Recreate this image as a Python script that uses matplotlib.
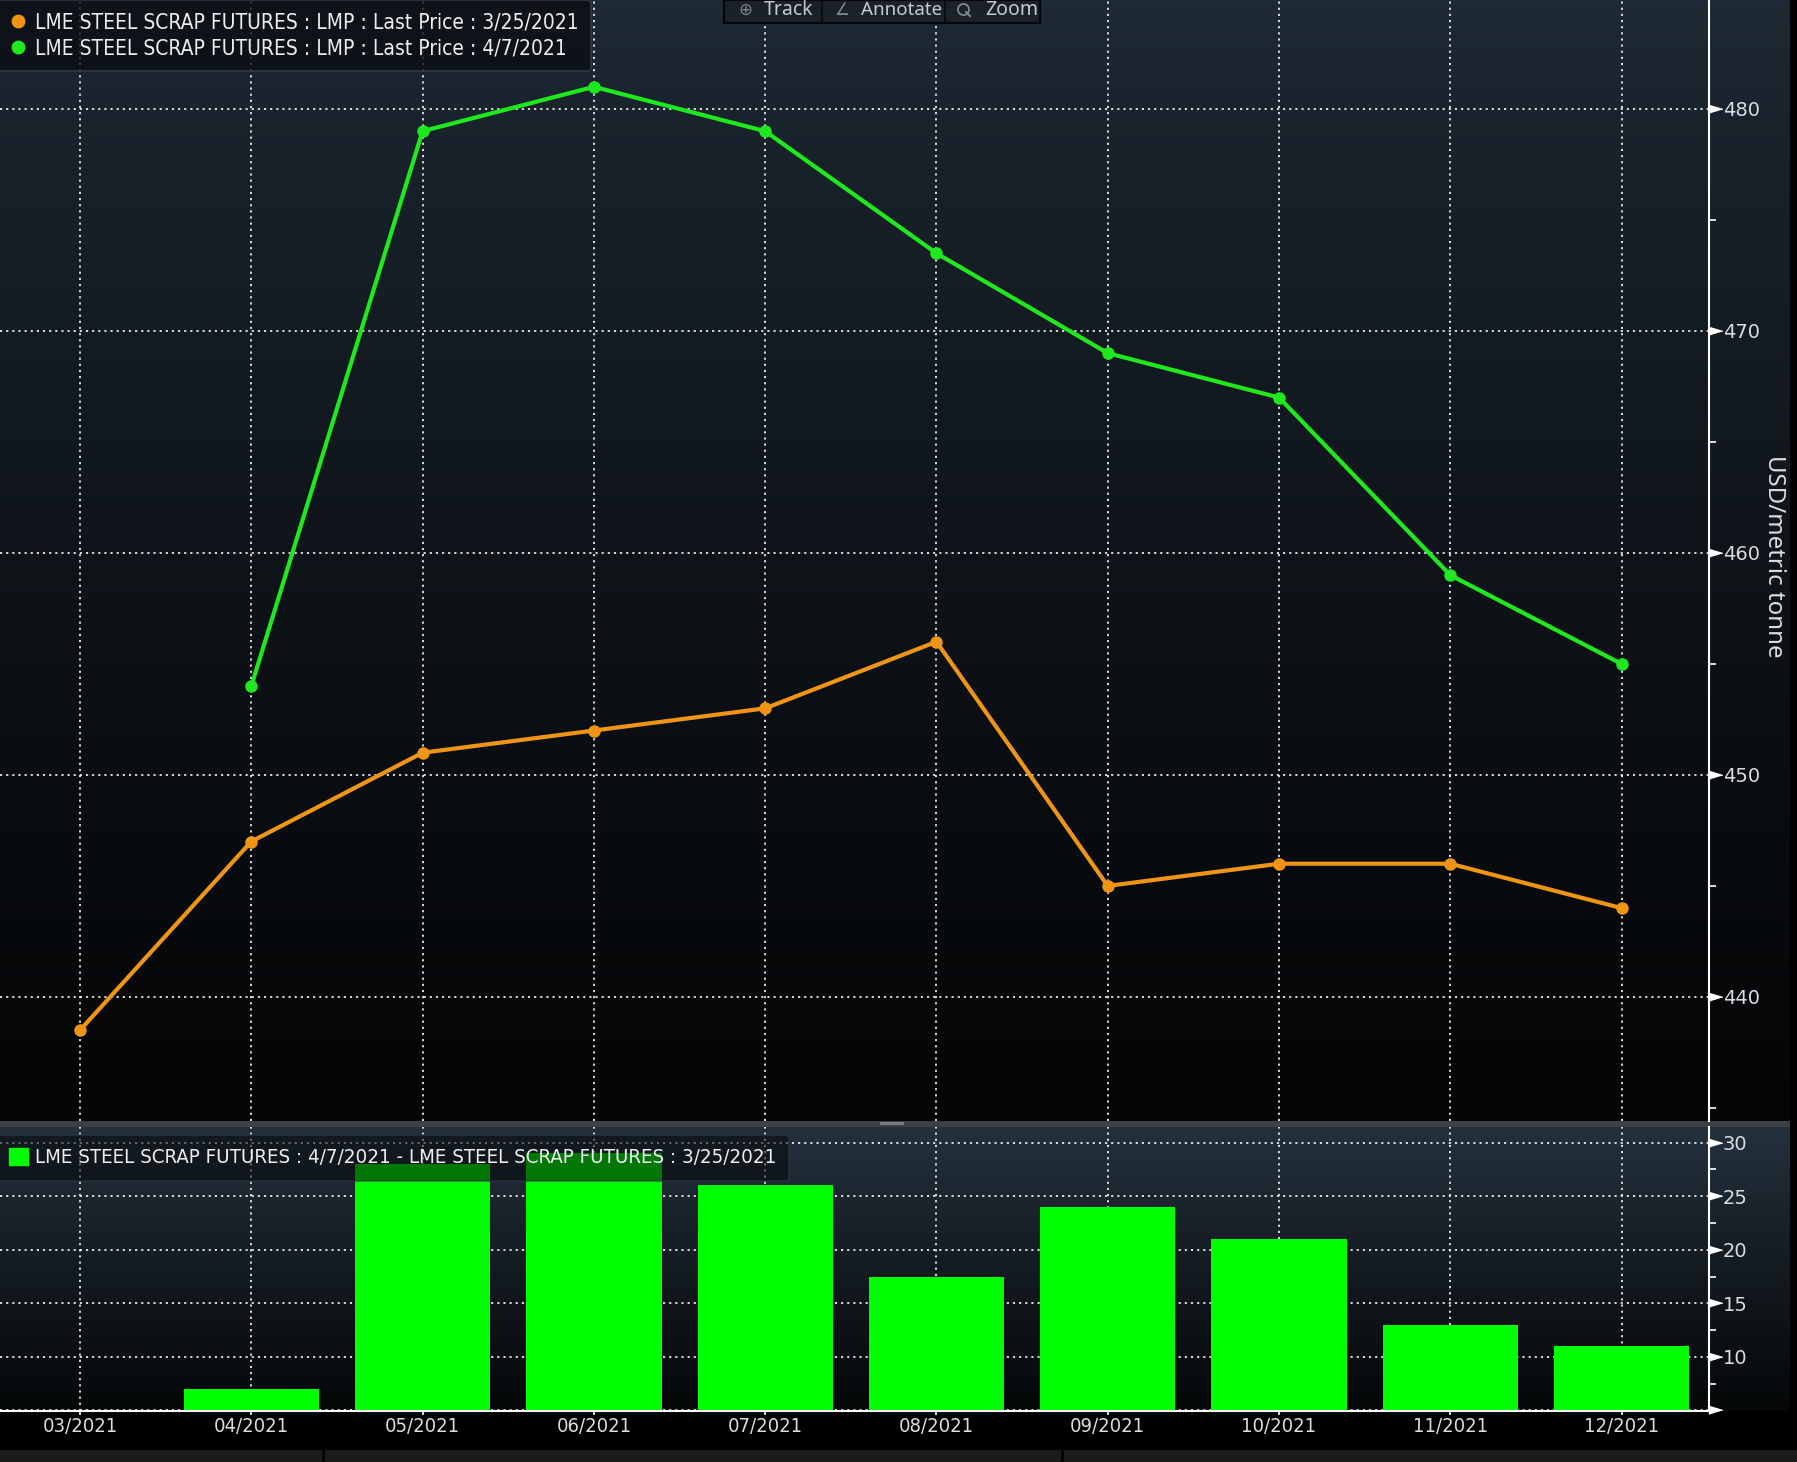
import numpy as np
import matplotlib.pyplot as plt
from matplotlib.lines import Line2D
from matplotlib.patches import Rectangle

months = ['03/2021', '04/2021', '05/2021', '06/2021', '07/2021',
          '08/2021', '09/2021', '10/2021', '11/2021', '12/2021']
price_0325 = [438.5, 447, 451, 452, 453, 456, 445, 446, 446, 444]
price_0407 = [np.nan, 454, 479, 481, 479, 473.5, 469, 467, 459, 455]
spread = [np.nan, 7, 28, 29, 26, 17.5, 24, 21, 13, 11]

top_ticks = [440, 450, 460, 470, 480]
bot_ticks = [5, 10, 15, 20, 25, 30]

ORANGE = '#ef9414'
GREEN = '#1fe81f'
BAR = '#00ff00'
TXT = '#d9dde2'
NARROW = {'family': ['DejaVu Sans'], 'stretch': 'condensed'}

W, H = 1797, 1462
fig = plt.figure(figsize=(W / 100, H / 100), dpi=100)
fig.patch.set_facecolor('black')

# background gradients (upper pane, separator, lower pane, bottom strip)
def grad(c0, c1, n, power=1.0):
    t = np.linspace(0, 1, n) ** power
    c0, c1 = np.array(c0) / 255, np.array(c1) / 255
    return c0[None, :] * (1 - t[:, None]) + c1[None, :] * t[:, None]

img = np.zeros((H, W, 3))
img[0:1121] = grad((30, 42, 53), (3, 4, 5), 1121, 0.8)[:, None, :]
img[1121:1127] = np.array([60, 64, 68]) / 255
img[1127:1411] = grad((36, 50, 62), (5, 7, 8), 284, 0.9)[:, None, :]
img[1411:1450] = 0.0
img[1450:] = np.array([27, 27, 27]) / 255
img[1450:, 322:325] = 0.02
img[1450:, 1061:1064] = 0.02
img[:1450, 1790:] = 0.0
img[1122:1125, 880:904] = np.array([120, 124, 128]) / 255
bg = fig.add_axes([0, 0, 1, 1], zorder=-10)
bg.imshow(img, aspect='auto', interpolation='nearest')
bg.axis('off')

x = np.arange(len(months))
xlim = (-0.467, 9.51)
ax_w = 1709 / W
ax1 = fig.add_axes([0, 1 - 1121 / H, ax_w, 1121 / H])
ax2 = fig.add_axes([0, 1 - 1411 / H, ax_w, (1411 - 1127) / H])

grid_kw = dict(color='white', linestyle=(0, (1.2, 2.2)), linewidth=1.3, alpha=0.9)

for ax in (ax1, ax2):
    ax.set_facecolor('none')
    ax.set_xlim(*xlim)
    ax.set_xticks(x)
    for s in ('left', 'top', 'bottom'):
        ax.spines[s].set_visible(False)
    ax.spines['right'].set_color('white')
    ax.spines['right'].set_linewidth(1.5)
    ax.yaxis.tick_right()
    ax.tick_params(axis='y', which='major', length=0, pad=10, labelcolor=TXT,
                   labelsize=14)
    ax.tick_params(axis='y', which='minor', length=5, width=1.2, color='white',
                   direction='out')
    ax.grid(True, **grid_kw)
    ax.set_axisbelow(True)

# upper pane: prices
ax1.set_ylim(434.41, 484.91)
ax1.set_yticks(top_ticks)
ax1.set_yticks(np.arange(435, 485, 10), minor=True)
ax1.tick_params(axis='x', length=0, labelbottom=False)
ax1.plot(x, price_0325, color=ORANGE, lw=3, marker='o', ms=8, zorder=3)
ax1.plot(x, price_0407, color=GREEN, lw=3, marker='o', ms=8, zorder=3)

# lower pane: spread bars
ax2.set_ylim(4.95, 31.45)
ax2.set_yticks(bot_ticks)
ax2.set_yticklabels(['', '10', '15', '20', '25', '30'])
ax2.set_yticks(np.arange(7.5, 31, 5), minor=True)
ax2.bar(x, spread, width=0.79, color=BAR, zorder=2)
ax2.spines['bottom'].set_visible(True)
ax2.spines['bottom'].set_color('white')
ax2.spines['bottom'].set_linewidth(1.5)
ax2.set_xticklabels(months, fontsize=14.5, color=TXT, **NARROW)
ax2.tick_params(axis='x', length=3, width=1.2, color='white', pad=1)

# triangular major tick markers on the right spine
tri = [(0, -3), (0, 3), (10, 0)]
for ax, ticks in ((ax1, top_ticks), (ax2, bot_ticks)):
    ax.plot([1] * len(ticks), ticks, linestyle='none', marker=tri, ms=19,
            color='white', transform=ax.get_yaxis_transform(), clip_on=False,
            zorder=5)

fig.text(1774 / W, 1 - 556 / H, 'USD/metric tonne', rotation=270, ha='center',
         va='center', color=TXT, fontsize=17.3, family='Noto Sans')

# legends
h1 = [Line2D([], [], ls='none', marker='o', ms=9, color=ORANGE),
      Line2D([], [], ls='none', marker='o', ms=9, color=GREEN)]
leg1 = ax1.legend(h1, ['LME STEEL SCRAP FUTURES : LMP : Last Price : 3/25/2021',
                       'LME STEEL SCRAP FUTURES : LMP : Last Price : 4/7/2021'],
                  loc='upper left', bbox_to_anchor=(-0.001, 1.0), borderaxespad=0,
                  prop=dict(size=15, **NARROW), labelcolor='#eceff2',
                  facecolor='#0a0e12', edgecolor='#2e3944', framealpha=0.8,
                  handlelength=0.65, handletextpad=0.5, labelspacing=0.3,
                  borderpad=0.6, fancybox=True)
leg1.get_frame().set_linewidth(1.5)

h2 = [Rectangle((0, 0), 1, 1, color=BAR)]
leg2 = ax2.legend(h2, ['LME STEEL SCRAP FUTURES : 4/7/2021 - LME STEEL SCRAP FUTURES : 3/25/2021'],
                  loc='upper left', bbox_to_anchor=(-0.0023, 0.973), borderaxespad=0,
                  prop=dict(size=14.7, **NARROW), labelcolor='#eceff2',
                  facecolor='#05080a', edgecolor='#2e3944', framealpha=0.55,
                  handlelength=0.9, handleheight=0.9, handletextpad=0.35,
                  borderpad=0.65, fancybox=True)
leg2.get_frame().set_linewidth(1.5)

# toolbar at the top
tb = fig.add_axes([724 / W, 1 - 23 / H, (1040 - 724) / W, 23 / H])
tb.set_xlim(724, 1040)
tb.set_ylim(23, 0)
tb.set_facecolor('#1b2129')
for s in tb.spines.values():
    s.set_color('#050607')
    s.set_linewidth(1.5)
tb.set_xticks([])
tb.set_yticks([])
for xd in (822, 945):
    tb.axvline(xd, color='#0c0f12', lw=1.5)
tb.text(745, 10, '⊕', color='#7d8690', fontsize=12, ha='center', va='center')
tb.text(764, 10, 'Track', color='#c3cad2', fontsize=14, va='center', family='Noto Sans')
tb.text(842, 10, '∠', color='#7d8690', fontsize=12, ha='center', va='center')
tb.text(861, 10, 'Annotate', color='#c3cad2', fontsize=13.5, va='center', family='Noto Sans')
tb.plot([963], [9], marker='o', ms=8, mfc='none', mec='#7d8690', mew=1.3)
tb.plot([966, 970], [12, 16], color='#7d8690', lw=1.5)
tb.text(985, 10, 'Zoom', color='#c3cad2', fontsize=14, va='center', family='Noto Sans')

fig.savefig('out.png', dpi=100, facecolor=fig.get_facecolor())
